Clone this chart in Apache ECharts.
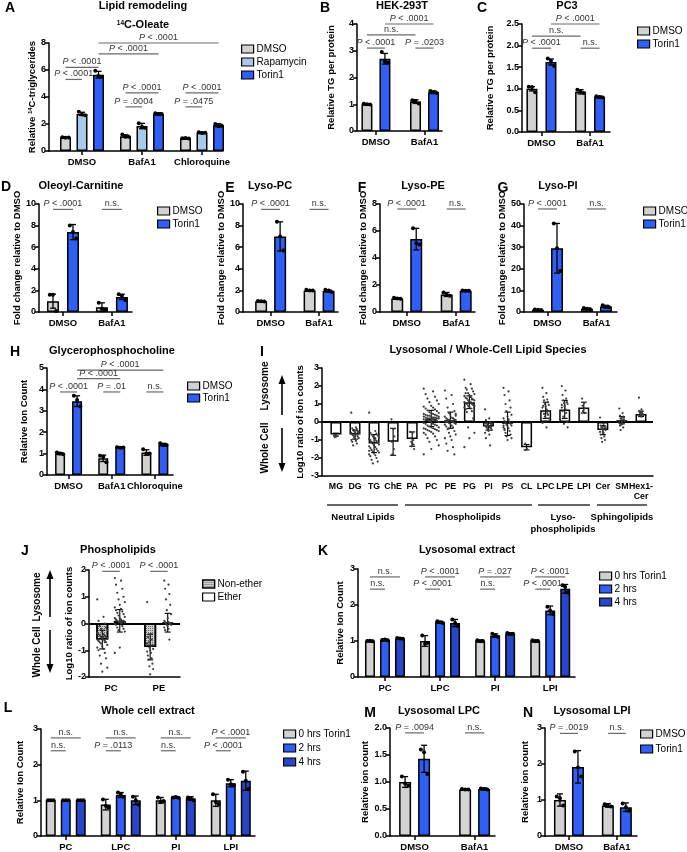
<!DOCTYPE html>
<html><head><meta charset="utf-8">
<script src="https://cdn.jsdelivr.net/npm/echarts@6/dist/echarts.min.js"></script>
<style>html,body{margin:0;padding:0;background:#fff}#c{width:687px;height:852px}</style>
</head><body><div id="c"></div>
<script>
// ---------------- DATA ----------------
// Panel A
const catsA = ['DMSO', 'BafA1', 'Chloroquine'];
const meanA_DMSO = [1.0, 1.1, 0.95];
const sdA_DMSO = [0.03, 0.1, 0.04];
const dotsA_DMSO = [[1.02, 0.98, 1.0], [1.22, 1.05, 1.05], [0.95, 0.97, 0.92]];
const meanA_Rapa = [2.75, 1.85, 1.35];
const sdA_Rapa = [0.12, 0.2, 0.05];
const dotsA_Rapa = [[2.9, 2.7, 2.65], [2.05, 1.8, 1.72], [1.38, 1.33, 1.36]];
const meanA_Torin = [5.65, 2.75, 1.9];
const sdA_Torin = [0.25, 0.08, 0.12];
const dotsA_Torin = [[5.95, 5.55, 5.5], [2.8, 2.72, 2.75], [2.0, 1.85, 1.87]];
const bracketsA = [[0,2,2,2,8.0,'P < .0001'],[0,2,1,2,7.2,'P < .0001'],[0,0,0,2,6.2,'P < .0001'],[0,0,0,1,5.3,'P < .0001'],
  [1,0,1,2,4.3,'P < .0001'],[1,0,1,1,3.27,'P = .0004'],[2,0,2,2,4.3,'P < .0001'],[2,0,2,1,3.27,'P = .0475']];
// Panel B
const catsB = ['DMSO', 'BafA1'];
const meanB_DMSO = [1.0, 1.1], sdB_DMSO = [0.02, 0.07], dotsB_DMSO = [[1.02, 1.0, 0.99], [1.15, 1.12, 1.03]];
const meanB_Torin = [2.7, 1.45], sdB_Torin = [0.2, 0.05], dotsB_Torin = [[2.95, 2.6, 2.55], [1.5, 1.45, 1.42]];
const bracketsB = [[0,1,1,1,4.0,'P < .0001'],[0,0,1,0,3.59,'n.s.'],[0,0,0,1,3.1,'P < .0001'],[1,0,1,1,3.1,'P = .0203']];
// Panel C
const catsC = ['DMSO', 'BafA1'];
const meanC_DMSO = [1.0, 0.93], sdC_DMSO = [0.05, 0.05], dotsC_DMSO = [[1.05, 1.04, 0.92], [0.98, 0.93, 0.9]];
const meanC_Torin = [1.62, 0.81], sdC_Torin = [0.07, 0.02], dotsC_Torin = [[1.7, 1.65, 1.53], [0.83, 0.81, 0.8]];
const bracketsC = [[0,1,1,1,2.5,'P < .0001'],[0,0,1,0,2.22,'n.s.'],[0,0,0,1,1.94,'P < .0001'],[1,0,1,1,1.94,'n.s.']];
// Panel D
const catsD = ['DMSO', 'BafA1'];
const meanD_DMSO = [1.0, 0.45], sdD_DMSO = [0.65, 0.4], dotsD_DMSO = [[1.6, 1.6, 0.1], [0.85, 0.3, 0.2]];
const meanD_Torin = [7.4, 1.4], sdD_Torin = [0.7, 0.25], dotsD_Torin = [[8.0, 7.4, 6.8], [1.65, 1.5, 1.1]];
const bracketsD = [[0,0,0,1,9.5,'P < .0001'],[1,0,1,1,9.5,'n.s.']];
// Panel E
const catsE = ['DMSO', 'BafA1'];
const meanE_DMSO = [1.0, 2.0], sdE_DMSO = [0.05, 0.05], dotsE_DMSO = [[1.03, 1.0, 0.97], [2.05, 2.0, 1.98]];
const meanE_Torin = [7.0, 1.95], sdE_Torin = [1.35, 0.08], dotsE_Torin = [[8.35, 7.0, 5.7], [2.05, 2.0, 1.85]];
const bracketsE = [[0,0,0,1,9.5,'P < .0001'],[1,0,1,1,9.5,'n.s.']];
// Panel F
const catsF = ['DMSO', 'BafA1'];
const meanF_DMSO = [1.0, 1.3], sdF_DMSO = [0.04, 0.15], dotsF_DMSO = [[1.05, 1.0, 0.98], [1.45, 1.3, 1.2]];
const meanF_Torin = [5.4, 1.58], sdF_Torin = [0.8, 0.03], dotsF_Torin = [[6.2, 5.1, 5.0], [1.6, 1.57, 1.58]];
const bracketsF = [[0,0,0,1,7.63,'P < .0001'],[1,0,1,1,7.63,'n.s.']];
// Panel G
const catsG = ['DMSO', 'BafA1'];
const meanG_DMSO = [1.0, 1.5], sdG_DMSO = [0.1, 0.3], dotsG_DMSO = [[1.1, 1.0, 0.9], [1.8, 1.5, 1.3]];
const meanG_Torin = [29.5, 2.5], sdG_Torin = [11.5, 0.6], dotsG_Torin = [[41, 29.5, 19], [3.1, 2.3, 2.2]];
const bracketsG = [[0,0,0,1,47.7,'P < .0001'],[1,0,1,1,47.7,'n.s.']];
// Panel H
const catsH = ['DMSO', 'BafA1', 'Chloroquine'];
const meanH_DMSO = [1.0, 0.78, 1.05], sdH_DMSO = [0.05, 0.15, 0.13], dotsH_DMSO = [[1.05, 1.0, 0.97], [0.9, 0.85, 0.6], [1.2, 1.0, 1.0]];
const meanH_Torin = [3.45, 1.28, 1.42], sdH_Torin = [0.25, 0.04, 0.06], dotsH_Torin = [[3.7, 3.5, 3.2], [1.3, 1.27, 1.28], [1.48, 1.4, 1.4]];
const bracketsH = [[0,1,2,1,4.9,'P < .0001'],[0,1,1,1,4.5,'P < .0001'],[0,0,0,1,3.88,'P < .0001'],[1,0,1,1,3.88,'P = .01'],[2,0,2,1,3.88,'n.s.']];
// Panel I
const catsI = ['MG','DG','TG','ChE','PA','PC','PE','PG','PI','PS','CL','LPC','LPE','LPI','Cer','SM','Hex1-\nCer'];
const meanI = [-0.7,-0.7,-1.2,-1.1,-0.95,0.2,0.1,1.1,-0.25,-0.1,-1.4,0.65,0.7,0.8,-0.45,0.1,0.45];
const sdI = [0.08,0.25,0.5,0.75,0.4,0.45,0.45,0.35,0.2,0.65,0.15,0.45,0.5,0.3,0.25,0.2,0.15];
const dotsI = [
  [-0.72,-0.8,-0.85,-0.78],
  [0.52,-0.3,-0.35,-0.4,-0.45,-0.5,-0.5,-0.55,-0.6,-0.6,-0.65,-0.7,-0.7,-0.75,-0.8,-0.85,-0.9,-0.95,-1.0,-1.05,-1.1,-1.2,-1.3,-0.55,-0.45,-0.65,-0.8],
  [0.52,-0.5,-0.6,-0.65,-0.7,-0.75,-0.8,-0.85,-0.9,-0.95,-1.0,-1.0,-1.05,-1.1,-1.15,-1.2,-1.25,-1.3,-1.35,-1.4,-1.45,-1.5,-1.55,-1.6,-1.65,-1.7,-1.75,-1.8,-1.85,-1.9,-2.0,-2.1,-2.2,-2.3,-0.7,-1.2,-1.6,-0.9,-1.1],
  [0.15,-0.4,-1.1,-1.5,-1.8,-0.8],
  [-0.55,-0.6,-0.9,-1.0,-1.1,-1.25,-1.35,-1.5,-1.2],
  [1.85,1.7,1.55,1.4,1.3,1.2,1.1,1.0,0.9,0.85,0.8,0.75,0.7,0.65,0.6,0.55,0.5,0.5,0.45,0.45,0.4,0.4,0.35,0.35,0.35,0.3,0.3,0.3,0.25,0.25,0.25,0.2,0.2,0.2,0.2,0.15,0.15,0.15,0.1,0.1,0.1,0.05,0.05,0.0,0.0,-0.05,-0.1,-0.1,-0.15,-0.2,-0.2,-0.25,-0.3,-0.3,-0.35,-0.35,-0.4,-0.4,-0.45,-0.45,-0.5,-0.5,-0.55,-0.6,-0.65,-0.7,-0.8,-0.9,-1.0,-1.1,-1.3,-1.5,-1.8],
  [1.75,1.5,1.3,1.0,0.8,0.6,0.5,0.45,0.4,0.3,0.25,0.2,0.2,0.15,0.15,0.1,0.1,0.1,0.05,0.05,0.0,0.0,0.0,-0.05,-0.05,-0.1,-0.1,-0.15,-0.2,-0.25,-0.3,-0.4,-0.5,-0.6,-0.7,-0.8,-0.9,-1.0,-1.2,-1.4,-1.6,-1.8,-0.35,0.35],
  [2.35,2.1,1.9,1.85,1.8,1.7,1.6,1.55,1.5,1.45,1.4,1.35,1.3,1.3,1.25,1.2,1.2,1.15,1.1,1.1,1.05,1.0,1.0,0.95,0.9,0.9,0.85,0.8,0.75,0.7,0.6,0.55,0.2,-0.3,-0.6,-0.9,-1.4,1.4,1.6,1.25],
  [0.7,0.2,0.1,0.0,-0.05,-0.1,-0.15,-0.15,-0.2,-0.2,-0.25,-0.25,-0.3,-0.3,-0.35,-0.4,-0.45,-0.5,-0.6,-0.7,-0.9,-1.3,-0.2,-0.25],
  [1.9,1.7,1.5,1.2,1.0,0.8,0.6,0.4,0.3,0.2,0.1,0.05,0.0,-0.05,-0.1,-0.15,-0.2,-0.25,-0.3,-0.35,-0.4,-0.5,-0.6,-0.7,-0.8,-0.9,-1.0,-0.2,0.15,-0.45],
  [-1.2,-1.5,-1.55],
  [1.9,1.6,1.4,1.25,1.2,1.1,1.0,0.95,0.85,0.8,0.7,0.6,0.5,0.45,0.4,0.3,0.2,0.05,-0.05,-0.3,0.9,0.65],
  [2.0,1.75,1.5,1.3,1.2,1.1,1.05,1.0,0.9,0.8,0.7,0.6,0.5,0.3,0.0,-0.1,-0.3,0.85,0.95],
  [1.3,1.05,0.9,0.75,0.6,0.5],
  [0.25,-0.1,-0.2,-0.25,-0.3,-0.35,-0.4,-0.45,-0.5,-0.55,-0.6,-0.7,-0.8,-0.9,-1.0,-1.1,-0.3,-0.4],
  [0.75,0.5,0.35,0.3,0.2,0.15,0.1,0.05,0.0,-0.05,-0.1,-0.2,-0.3,-0.45,0.25,-0.15],
  [1.35,0.7,0.6,0.55,0.5,0.45,0.45,0.4,0.4,0.35,0.3]
];
const groupsI = ['Neutral Lipids', 'Phospholipids', 'Lyso-\nphospholipids', 'Sphingolipids'];
// Panel J
const catsJ = ['PC', 'PE'];
const meanJ_Non = [-0.6, -0.88], sdJ_Non = [0.35, 0.48];
const dotsJ_Non = [
  [0.9,0.25,0.1,0.0,-0.1,-0.15,-0.2,-0.25,-0.3,-0.35,-0.4,-0.4,-0.45,-0.45,-0.5,-0.5,-0.55,-0.55,-0.6,-0.6,-0.65,-0.65,-0.7,-0.7,-0.75,-0.8,-0.85,-0.9,-0.95,-1.0,-1.1,-1.2,-1.3,-1.5,-1.65,-1.8,-2.0,-0.5,-0.6,-0.7],
  [0.8,-0.4,-0.5,-0.6,-0.7,-0.8,-0.9,-0.95,-1.0,-1.05,-1.1,-1.2,-1.3,-1.35,-1.5,-1.6,-1.7,-1.9,-0.75,-0.85]];
const meanJ_Eth = [0.1, 0.03], sdJ_Eth = [0.42, 0.35];
const dotsJ_Eth = [
  [1.7,1.6,1.45,1.3,1.15,1.0,0.9,0.8,0.7,0.6,0.55,0.5,0.45,0.4,0.35,0.3,0.25,0.2,0.2,0.15,0.15,0.1,0.1,0.1,0.05,0.05,0.05,0.0,0.0,-0.05,-0.1,-0.15,-0.2,-0.25,-0.3,-0.9,-1.1,0.1,0.15,0.05],
  [1.6,1.45,1.3,1.1,0.9,0.7,0.5,0.35,0.2,0.1,0.05,0.05,0.0,0.0,0.0,-0.05,-0.05,-0.1,-0.15,-0.2,-0.25,-0.6,0.02,-0.02]];
const bracketsJ = [[0,0,0,1,1.95,'P < .0001'],[1,0,1,1,1.95,'P < .0001']];
// Panel K
const catsK = ['PC', 'LPC', 'PI', 'LPI'];
const meanK_0 = [1.0, 1.0, 1.0, 1.0], sdK_0 = [0.02, 0.15, 0.03, 0.03];
const dotsK_0 = [[1.0, 1.01, 0.99], [1.15, 0.92, 0.95], [1.02, 0.99, 1.0], [1.02, 0.99, 1.0]];
const meanK_2 = [1.03, 1.52, 1.15, 1.85], sdK_2 = [0.02, 0.03, 0.05, 0.12];
const dotsK_2 = [[1.03, 1.04, 1.02], [1.55, 1.52, 1.5], [1.2, 1.15, 1.12], [1.95, 1.85, 1.75]];
const meanK_4 = [1.07, 1.5, 1.2, 2.45], sdK_4 = [0.02, 0.1, 0.03, 0.12];
const dotsK_4 = [[1.08, 1.07, 1.06], [1.6, 1.5, 1.42], [1.22, 1.19, 1.2], [2.55, 2.5, 2.35]];
const bracketsK = [[0,0,0,2,2.78,'n.s.'],[0,0,0,1,2.44,'n.s.'],[1,0,1,2,2.78,'P < .0001'],[1,0,1,1,2.44,'P < .0001'],
  [2,0,2,2,2.78,'P = .027'],[2,0,2,1,2.44,'n.s.'],[3,0,3,2,2.78,'P < .0001'],[3,0,3,1,2.44,'P < .0001']];
// Panel L
const catsL = ['PC', 'LPC', 'PI', 'LPI'];
const meanL_0 = [1.0, 0.88, 1.0, 1.0], sdL_0 = [0.01, 0.15, 0.08, 0.17];
const dotsL_0 = [[1.0, 1.0, 1.0], [1.02, 0.85, 0.8], [1.08, 0.95, 0.98], [1.17, 0.95, 0.9]];
const meanL_2 = [1.0, 1.15, 1.08, 1.48], sdL_2 = [0.01, 0.07, 0.02, 0.1];
const dotsL_2 = [[1.0, 1.0, 1.0], [1.22, 1.18, 1.1], [1.08, 1.09, 1.07], [1.58, 1.45, 1.42]];
const meanL_4 = [1.0, 1.0, 1.05, 1.55], sdL_4 = [0.01, 0.12, 0.05, 0.27];
const dotsL_4 = [[1.0, 1.0, 1.0], [1.1, 1.0, 0.88], [1.08, 1.05, 1.0], [1.8, 1.55, 1.32]];
const bracketsL = [[0,0,0,2,2.75,'n.s.'],[0,0,0,1,2.39,'n.s.'],[1,0,1,2,2.75,'n.s.'],[1,0,1,1,2.39,'P = .0113'],
  [2,0,2,2,2.75,'n.s.'],[2,0,2,1,2.39,'n.s.'],[3,0,3,2,2.75,'P < .0001'],[3,0,3,1,2.39,'P < .0001']];
// Panel M
const catsM = ['DMSO', 'BafA1'];
const meanM_DMSO = [1.0, 0.86], sdM_DMSO = [0.1, 0.01], dotsM_DMSO = [[1.1, 0.97, 0.93], [0.87, 0.86, 0.86]];
const meanM_Torin = [1.43, 0.87], sdM_Torin = [0.25, 0.02], dotsM_Torin = [[1.6, 1.55, 1.15], [0.88, 0.87, 0.86]];
const bracketsM = [[0,0,0,1,1.91,'P = .0094'],[1,0,1,1,1.91,'n.s.']];
// Panel N
const catsN = ['DMSO', 'BafA1'];
const meanN_DMSO = [1.0, 0.85], sdN_DMSO = [0.17, 0.05], dotsN_DMSO = [[1.1, 1.05, 0.85], [0.88, 0.85, 0.82]];
const meanN_Torin = [1.92, 0.8], sdN_Torin = [0.45, 0.12], dotsN_Torin = [[2.35, 1.9, 1.65], [0.9, 0.8, 0.7]];
const bracketsN = [[0,0,0,1,2.85,'P = .0019'],[1,0,1,1,2.85,'n.s.']];

// ---------------- STYLE / BUILD ----------------
const FONT = '"Liberation Sans", Arial, Helvetica, sans-serif';
const GRAY = '#d2d2d2', LBLUE = '#a8c8ec', BLUE = '#2f5ff4', DBLUE = '#2a46c8', WHITE = '#ffffff';
const HATCH = {symbol: 'rect', symbolSize: 1, color: 'rgba(70,70,70,0.75)', dashArrayX: [1, 1], dashArrayY: [1, 1]};

const opt = {animation: false, backgroundColor: '#fff', textStyle: {fontFamily: FONT},
  grid: [], xAxis: [], yAxis: [], series: [], legend: [], graphic: []};

function txt(x, y, text, o) {
  o = o || {};
  const st = {text: text, align: o.align || 'center', verticalAlign: 'middle', fontSize: o.fs || 11,
    fontWeight: o.fw || 'bold', fill: '#000', fontFamily: FONT, lineHeight: o.lh || undefined};
  if (o.rich) st.rich = o.rich;
  opt.graphic.push({type: 'text', x: x, y: y, rotation: o.rot || 0, silent: true, style: st});
}
function gline(x1, y1, x2, y2, w, c) {
  opt.graphic.push({type: 'line', silent: true, shape: {x1, y1, x2, y2}, style: {stroke: c || '#000', lineWidth: w || 1.5}});
}
function arrow(x, y1, y2) { // from y1 to y2, head at y2
  gline(x, y1, x, y2 + (y2 < y1 ? 5 : -5), 1.6);
  const d = y2 < y1 ? 1 : -1;
  opt.graphic.push({type: 'polygon', silent: true, shape: {points: [[x, y2], [x - 3.5, y2 + 9 * d], [x + 3.5, y2 + 9 * d]]}, style: {fill: '#000'}});
}
function pRich(s) { return s.indexOf('P') === 0 ? '{i|P}' + s.slice(1) : s; }

function addPanel(p) {
  const gi = opt.grid.length;
  opt.grid.push({left: p.l, top: p.t, width: p.r - p.l, height: p.b - p.t});
  const ticks = p.cats.map((c, i) => i);
  opt.xAxis.push({type: 'value', gridIndex: gi, min: p.xmin, max: p.xmax, splitLine: {show: false},
    axisLine: {show: true, onZero: false, lineStyle: {color: '#000', width: 1.5}},
    axisTick: {show: p.xtick !== false, customValues: ticks, length: 4, lineStyle: {color: '#000', width: 1.5}},
    axisLabel: {customValues: ticks, formatter: v => p.cats[Math.round(v)], fontSize: p.xfs || 9.5, fontWeight: 'bold',
      color: '#000', margin: p.xmargin || 6, lineHeight: 10, fontFamily: FONT}});
  const rich = {s: {fontSize: 6, fontWeight: 'bold', verticalAlign: 'top', fontFamily: FONT}};
  opt.yAxis.push({type: 'value', gridIndex: gi, min: p.ymin, max: p.ymax, interval: p.yint, splitLine: {show: false},
    axisLine: {show: true, onZero: false, lineStyle: {color: '#000', width: 1.5}},
    axisTick: {show: true, length: 4, lineStyle: {color: '#000', width: 1.5}},
    axisLabel: {fontSize: 9, fontWeight: 'bold', color: '#000', margin: 3, formatter: p.yfmt || (v => String(v)), fontFamily: FONT},
    name: p.yname, nameLocation: 'middle', nameGap: p.ngap,
    nameTextStyle: {fontSize: 9.5, fontWeight: 'bold', color: '#000', fontFamily: FONT, rich: rich}});
  const ns = p.ser.length, pitch = p.pitch, w = p.bw;
  const off = i => (i - (ns - 1) / 2) * pitch;
  p.ser.forEach((s, si) => {
    const bar = {type: 'bar', name: s.name, xAxisIndex: gi, yAxisIndex: gi, barWidth: w, barGap: ((pitch - w) / w * 100) + '%',
      data: s.mean.map((m, i) => [i, m]), z: 2, silent: true,
      itemStyle: {color: s.color, borderColor: '#000', borderWidth: p.bbw || 1.5, decal: s.decal}};
    if (p.zeroLine && si === 0) {
      bar.markLine = {silent: true, symbol: 'none', label: {show: false}, lineStyle: {color: '#000', width: 2, type: 'solid'},
        data: [{yAxis: 0}], z: 3};
    }
    opt.series.push(bar);
    opt.series.push({type: 'custom', xAxisIndex: gi, yAxisIndex: gi, z: 5, silent: true,
      data: s.mean.map((m, i) => [i, m, s.sd[i]]),
      renderItem: (params, api) => {
        const i = api.value(0), m = api.value(1), sd = api.value(2);
        const c = api.coord([i, m]);
        const x = c[0] + off(si);
        const yt = api.coord([i, m + sd])[1], yb = api.coord([i, m - sd])[1];
        const cap = p.cap || 3, lw = p.elw || 1.3;
        const ch = [
          {type: 'line', shape: {x1: x, y1: yt, x2: x, y2: yb}, style: {stroke: '#000', lineWidth: lw}},
          {type: 'line', shape: {x1: x - cap, y1: yt, x2: x + cap, y2: yt}, style: {stroke: '#000', lineWidth: lw}},
          {type: 'line', shape: {x1: x - cap, y1: yb, x2: x + cap, y2: yb}, style: {stroke: '#000', lineWidth: lw}}];
        const d = s.dots[params.dataIndex] || [];
        const n = d.length;
        d.forEach((v, k) => {
          let dx;
          if (p.swarm) {
            const wd = Math.min(p.swarm, 1 + n * 0.1);
            dx = (((k * 5) % 9) - 4) / 4 * wd;
          } else {
            dx = (k - (n - 1) / 2) * (p.dsp || 3.2);
          }
          const py = api.coord([i, v])[1];
          ch.push({type: 'circle', shape: {cx: x + dx, cy: py, r: p.dr || 2}, style: {fill: p.dcol || '#000'}});
        });
        return {type: 'group', children: ch};
      }});
  });
  if (p.br) {
    opt.series.push({type: 'custom', xAxisIndex: gi, yAxisIndex: gi, z: 6, silent: true,
      data: p.br.map(b => [b[0], b[4]]),
      renderItem: (params, api) => {
        const b = p.br[params.dataIndex];
        const p1 = api.coord([b[0], b[4]]), p2 = api.coord([b[2], b[4]]);
        const x1 = p1[0] + off(b[1]), x2 = p2[0] + off(b[3]), y = p1[1];
        return {type: 'group', children: [
          {type: 'line', shape: {x1: x1, y1: y, x2: x2, y2: y}, style: {stroke: '#6a6a6a', lineWidth: 1.2}},
          {type: 'text', x: (x1 + x2) / 2, y: y - 1, style: {text: pRich(b[5]), align: 'center', verticalAlign: 'bottom',
            fontSize: 9, fill: '#333', fontFamily: FONT,
            rich: {i: {fontStyle: 'italic', fontSize: 9, fill: '#333', fontFamily: FONT}}}}]};
      }});
  }
  if (p.leg) {
    opt.legend.push({data: p.ser.map(s => s.name), left: p.leg[0], top: p.leg[1], orient: 'vertical', padding: 0,
      itemWidth: 12, itemHeight: 8, itemGap: p.leg[2], icon: 'rect', selectedMode: false,
      textStyle: {fontSize: 10, color: '#000', fontFamily: FONT, padding: [0, 0, 0, -2]},
      itemStyle: {borderColor: '#000', borderWidth: 1.2}});
  }
}

const fmt1 = v => v.toFixed(1);
const S = (name, color, mean, sd, dots, decal) => ({name, color, mean, sd, dots, decal});

// A
addPanel({l: 49, t: 43, r: 223, b: 151, xmin: -0.55, xmax: 2.35, cats: catsA, ymin: 0, ymax: 8, yint: 2,
  yname: 'Relative {s|14}C-triglycerides', ngap: 10, bw: 11, pitch: 16.5, br: bracketsA, leg: [241, 44, 3],
  ser: [S('DMSO', GRAY, meanA_DMSO, sdA_DMSO, dotsA_DMSO), S('Rapamycin', LBLUE, meanA_Rapa, sdA_Rapa, dotsA_Rapa),
        S('Torin1', BLUE, meanA_Torin, sdA_Torin, dotsA_Torin)]});
// B
addPanel({l: 357, t: 24, r: 442, b: 131, xmin: -0.39, xmax: 1.36, cats: catsB, ymin: 0, ymax: 4, yint: 1,
  yname: 'Relative TG per protein', ngap: 21, bw: 11, pitch: 18, br: bracketsB,
  ser: [S('DMSO', GRAY, meanB_DMSO, sdB_DMSO, dotsB_DMSO), S('Torin1', BLUE, meanB_Torin, sdB_Torin, dotsB_Torin)]});
// C
addPanel({l: 522, t: 24, r: 610, b: 132, xmin: -0.40, xmax: 1.41, cats: catsC, ymin: 0, ymax: 2.5, yint: 0.5, yfmt: fmt1,
  yname: 'Relative TG per protein', ngap: 27, bw: 11, pitch: 19, br: bracketsC, leg: [637, 26, 3],
  ser: [S('DMSO', GRAY, meanC_DMSO, sdC_DMSO, dotsC_DMSO), S('Torin1', BLUE, meanC_Torin, sdC_Torin, dotsC_Torin)]});
// D
addPanel({l: 39, t: 204, r: 132, b: 312, xmin: -0.49, xmax: 1.41, cats: catsD, ymin: 0, ymax: 10, yint: 2,
  yname: 'Fold change relative to DMSO', ngap: 17, bw: 12, pitch: 20, br: bracketsD, leg: [157, 206, 3],
  ser: [S('DMSO', GRAY, meanD_DMSO, sdD_DMSO, dotsD_DMSO), S('Torin1', BLUE, meanD_Torin, sdD_Torin, dotsD_Torin)]});
// E
addPanel({l: 243, t: 204, r: 338, b: 312, xmin: -0.57, xmax: 1.39, cats: catsE, ymin: 0, ymax: 10, yint: 2,
  yname: 'Fold change relative to DMSO', ngap: 14, bw: 12, pitch: 19, br: bracketsE,
  ser: [S('DMSO', GRAY, meanE_DMSO, sdE_DMSO, dotsE_DMSO), S('Torin1', BLUE, meanE_Torin, sdE_Torin, dotsE_Torin)]});
// F
addPanel({l: 380, t: 204, r: 475, b: 312, xmin: -0.54, xmax: 1.38, cats: catsF, ymin: 0, ymax: 8, yint: 2,
  yname: 'Fold change relative to DMSO', ngap: 9, bw: 12, pitch: 19, br: bracketsF,
  ser: [S('DMSO', GRAY, meanF_DMSO, sdF_DMSO, dotsF_DMSO), S('Torin1', BLUE, meanF_Torin, sdF_Torin, dotsF_Torin)]});
// G
addPanel({l: 524, t: 204, r: 617, b: 312, xmin: -0.48, xmax: 1.42, cats: catsG, ymin: 0, ymax: 50, yint: 10,
  yname: 'Fold change relative to DMSO', ngap: 14, bw: 12, pitch: 19, br: bracketsG, leg: [643, 206, 3],
  ser: [S('DMSO', GRAY, meanG_DMSO, sdG_DMSO, dotsG_DMSO), S('Torin1', BLUE, meanG_Torin, sdG_Torin, dotsG_Torin)]});
// H
addPanel({l: 47, t: 368, r: 173, b: 475, xmin: -0.5, xmax: 2.42, cats: catsH, ymin: 0, ymax: 5, yint: 1,
  yname: 'Relative Ion Count', ngap: 18, bw: 10, pitch: 17, br: bracketsH, leg: [187, 381, 2],
  ser: [S('DMSO', GRAY, meanH_DMSO, sdH_DMSO, dotsH_DMSO), S('Torin1', BLUE, meanH_Torin, sdH_Torin, dotsH_Torin)]});
// I
addPanel({l: 322, t: 368, r: 653, b: 476, xmin: -0.73, xmax: 16.63, cats: catsI, ymin: -3, ymax: 3, yint: 1,
  yname: 'Log10 ratio of ion counts', ngap: 17, bw: 11, pitch: 11, xtick: false, xfs: 8.8, xmargin: 6,
  zeroLine: true, swarm: 7.5, dr: 1.1, dcol: '#3a3a3a', cap: 3, elw: 1.1, bbw: 1.5,
  ser: [S('Lipid species', WHITE, meanI, sdI, dotsI)]});
// J
addPanel({l: 89, t: 570, r: 180, b: 677, xmin: -0.46, xmax: 1.44, cats: catsJ, ymin: -2, ymax: 2, yint: 1,
  yname: 'Log10 ratio of ion counts', ngap: 12, bw: 12, pitch: 17.5, xtick: false, br: bracketsJ, leg: [202, 579, 3],
  zeroLine: true, swarm: 6, dr: 1.1, dcol: '#3a3a3a', cap: 3, elw: 1.1,
  ser: [S('Non-ether', '#cfcfcf', meanJ_Non, sdJ_Non, dotsJ_Non, HATCH), S('Ether', WHITE, meanJ_Eth, sdJ_Eth, dotsJ_Eth)]});
// K
addPanel({l: 358, t: 569, r: 575, b: 677, xmin: -0.49, xmax: 3.45, cats: catsK, ymin: 0, ymax: 3, yint: 1,
  yname: 'Relative Ion Count', ngap: 13, bw: 10, pitch: 15, br: bracketsK, leg: [599, 571, 3], dsp: 2.8,
  ser: [S('0 hrs Torin1', GRAY, meanK_0, sdK_0, dotsK_0), S('2 hrs', BLUE, meanK_2, sdK_2, dotsK_2), S('4 hrs', DBLUE, meanK_4, sdK_4, dotsK_4)]});
// L
addPanel({l: 41, t: 729, r: 255, b: 837, xmin: -0.45, xmax: 3.44, cats: catsL, ymin: 0, ymax: 3, yint: 1,
  yname: 'Relative Ion Count', ngap: 16, bw: 10, pitch: 15, br: bracketsL, leg: [283, 729, 4], dsp: 2.8,
  ser: [S('0 hrs Torin1', GRAY, meanL_0, sdL_0, dotsL_0), S('2 hrs', BLUE, meanL_2, sdL_2, dotsL_2), S('4 hrs', DBLUE, meanL_4, sdL_4, dotsL_4)]});
// M
addPanel({l: 390, t: 728, r: 495, b: 836, xmin: -0.41, xmax: 1.34, cats: catsM, ymin: 0, ymax: 2, yint: 0.5, yfmt: fmt1,
  yname: 'Relative ion count', ngap: 18, bw: 12, pitch: 19, br: bracketsM,
  ser: [S('DMSO', GRAY, meanM_DMSO, sdM_DMSO, dotsM_DMSO), S('Torin1', BLUE, meanM_Torin, sdM_Torin, dotsM_Torin)]});
// N
addPanel({l: 545, t: 728, r: 637, b: 836, xmin: -0.5, xmax: 1.42, cats: catsN, ymin: 0, ymax: 3, yint: 1,
  yname: 'Relative ion count', ngap: 15, bw: 12, pitch: 18, br: bracketsN, leg: [640, 729, 5],
  ser: [S('DMSO', GRAY, meanN_DMSO, sdN_DMSO, dotsN_DMSO), S('Torin1', BLUE, meanN_Torin, sdN_Torin, dotsN_Torin)]});

// ---------------- Titles / letters / decorations ----------------
const letters = [['A', 10, 8], ['B', 325, 8], ['C', 482, 8], ['D', 6, 187], ['E', 230, 188], ['F', 362, 188], ['G', 503, 188],
  ['H', 15, 352], ['I', 262, 352], ['J', 25, 551], ['K', 323, 551], ['L', 8, 708], ['M', 370, 713], ['N', 528, 713]];
letters.forEach(l => txt(l[1], l[2], l[0], {fs: 14}));
const titles = [['Lipid remodeling', 143, 6], ['HEK-293T', 402, 6], ['PC3', 567, 6], ['Oleoyl-Carnitine', 81, 186],
  ['Lyso-PC', 270, 186], ['Lyso-PE', 423, 186], ['Lyso-PI', 558, 186], ['Glycerophosphocholine', 112, 351],
  ['Lysosomal / Whole-Cell Lipid Species', 488, 350], ['Phospholipids', 118, 550], ['Lysosomal extract', 467, 550],
  ['Whole cell extract', 148, 711], ['Lysosomal LPC', 439, 711], ['Lysosomal LPI', 592, 711]];
titles.forEach(t => txt(t[1], t[2], t[0], {fs: 11}));
txt(143, 25, '{s|14}C-Oleate', {fs: 11, rich: {s: {fontSize: 6.5, fontWeight: 'bold', verticalAlign: 'top', fontFamily: FONT}}});

// I side labels
txt(265, 386, 'Lysosome', {fs: 10, rot: Math.PI / 2});
txt(265, 448, 'Whole Cell', {fs: 10, rot: Math.PI / 2});
arrow(282, 415, 375);
arrow(282, 428, 472);
// J side labels
txt(37, 597, 'Lysosome', {fs: 10, rot: Math.PI / 2});
txt(37, 652, 'Whole Cell', {fs: 10, rot: Math.PI / 2});
arrow(50, 617, 570);
arrow(50, 630, 673);
// I groups
const groupX = [[327, 398, 363], [405, 532, 468], [538, 590, 563], [597, 647, 622]];
groupX.forEach((g, i) => {
  gline(g[0], 505, g[1], 505, 2, '#666');
  txt(g[2], i === 2 ? 523 : 517, groupsI[i], {fs: 9.5, lh: 12});
});

const chart = echarts.init(document.getElementById('c'), null, {renderer: 'canvas'});
chart.setOption(opt);
</script></body></html>
